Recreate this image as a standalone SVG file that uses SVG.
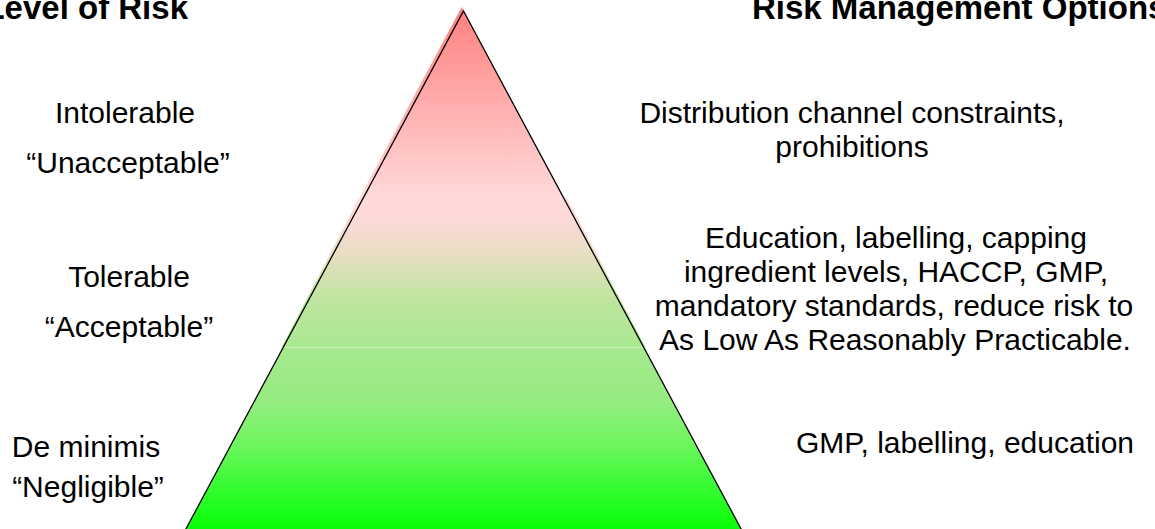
<svg xmlns="http://www.w3.org/2000/svg" width="1155" height="529" viewBox="0 0 1155 529">
  <defs>
    <!-- colour ramps for the three bands of the pyramid, in page coordinates -->
    <linearGradient id="gradTop" gradientUnits="userSpaceOnUse" x1="0" y1="7" x2="0" y2="199">
      <stop offset="0" stop-color="#FF7F7F"/>
      <stop offset="0.5" stop-color="#FFADAD"/>
      <stop offset="1" stop-color="#FFDADA"/>
    </linearGradient>
    <linearGradient id="gradMid" gradientUnits="userSpaceOnUse" x1="0" y1="198" x2="0" y2="348">
      <stop offset="0" stop-color="#FFDADA"/>
      <stop offset="0.12" stop-color="#FFD9D9"/>
      <stop offset="0.35" stop-color="#EADDC5"/>
      <stop offset="0.68" stop-color="#BFE59E"/>
      <stop offset="1" stop-color="#A8E890"/>
    </linearGradient>
    <linearGradient id="gradLow" gradientUnits="userSpaceOnUse" x1="0" y1="347" x2="0" y2="529">
      <stop offset="0" stop-color="#A8E890"/>
      <stop offset="0.3" stop-color="#95EC80"/>
      <stop offset="0.55" stop-color="#6AF65C"/>
      <stop offset="0.8" stop-color="#30FC2C"/>
      <stop offset="1" stop-color="#08FF08"/>
    </linearGradient>
  </defs>
  <style>
    .label { font-family: "Liberation Sans", Arial, sans-serif; font-size: 30px; fill: #000000; text-anchor: middle; }
    .title { font-family: "Liberation Sans", Arial, sans-serif; font-size: 33px; font-weight: bold; fill: #000000; }
    .outline { fill: none; stroke: #000000; stroke-width: 1.3; stroke-linejoin: miter; }
  </style>

  <rect x="0" y="0" width="1155" height="529" fill="#FFFFFF"/>

  <!-- pyramid: three shaded bands under a black outline -->
  <g id="pyramid">
    <polygon points="461.7,7 563.9,198 359.5,198" fill="url(#gradTop)"/>
    <polygon points="359,198 567,198 645.5,347.5 281.5,347.5" fill="url(#gradMid)"/>
    <polygon points="283.5,347 643.5,347 747,540 180,540" fill="url(#gradLow)"/>
    <line x1="283" y1="347.5" x2="644" y2="347.5" stroke="#D2F2C6" stroke-width="1" opacity="0.8"/>
    <polygon class="outline" points="463.5,11 747,540 180,540"/>
  </g>

  <!-- column headings -->
  <g id="heading-level">
    <text class="title" x="188" y="19" text-anchor="end">Level of Risk</text>
  </g>
  <g id="heading-options">
    <text class="title" x="752" y="19">Risk Management Options</text>
  </g>

  <!-- levels of risk -->
  <g id="level-intolerable">
    <text class="label" x="125" y="123">Intolerable</text>
    <text class="label" x="128" y="173">“Unacceptable”</text>
  </g>
  <g id="level-tolerable">
    <text class="label" x="129" y="287">Tolerable</text>
    <text class="label" x="129" y="337">“Acceptable”</text>
  </g>
  <g id="level-deminimis">
    <text class="label" x="86" y="457">De minimis</text>
    <text class="label" x="88" y="497">“Negligible”</text>
  </g>

  <!-- management options -->
  <g id="options-intolerable">
    <text class="label" x="852" y="123">Distribution channel constraints,</text>
    <text class="label" x="852" y="157">prohibitions</text>
  </g>
  <g id="options-tolerable">
    <text class="label" x="896" y="248">Education, labelling, capping</text>
    <text class="label" x="896" y="282">ingredient levels, HACCP, GMP,</text>
    <text class="label" x="894" y="316">mandatory standards, reduce risk to</text>
    <text class="label" x="895" y="350">As Low As Reasonably Practicable.</text>
  </g>
  <g id="options-deminimis">
    <text class="label" x="965" y="453">GMP, labelling, education</text>
  </g>
</svg>
